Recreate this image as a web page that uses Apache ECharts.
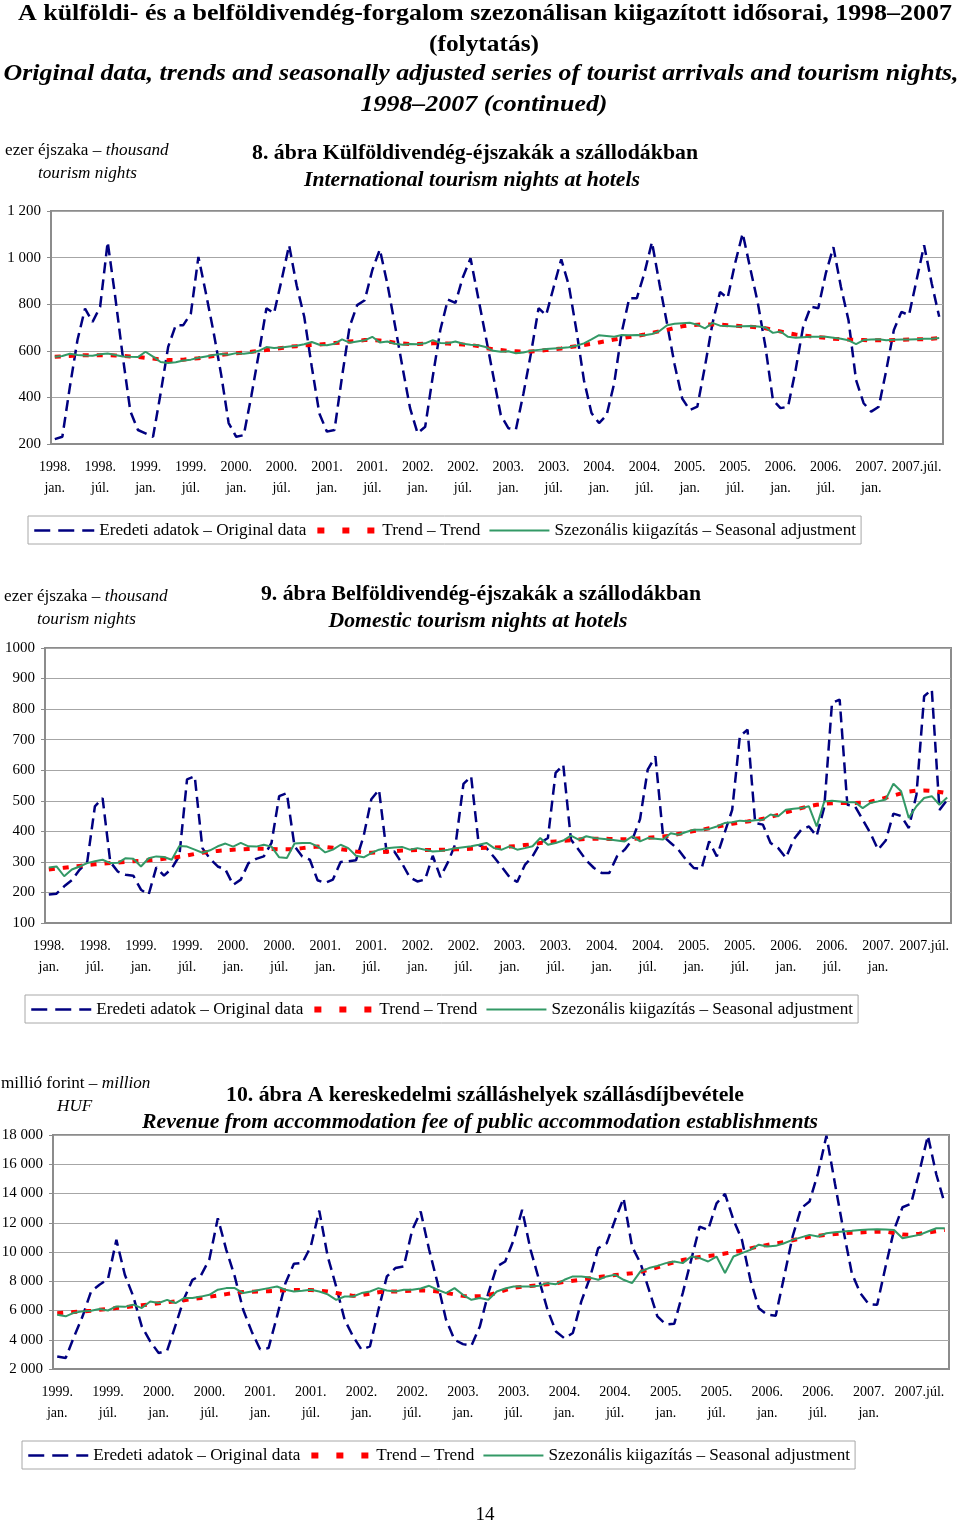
<!DOCTYPE html>
<html><head><meta charset="utf-8">
<script src="https://cdn.jsdelivr.net/npm/echarts@6/dist/echarts.min.js"></script>
<style>html,body{margin:0;padding:0;background:#fff}#c{width:960px;height:1525px}</style>
</head><body><div id="c"></div>
<script>
// ---------------- DATA ----------------
const monthNames = ['jan.','febr.','márc.','ápr.','máj.','jún.','júl.','aug.','szept.','okt.','nov.','dec.'];

// Chart 8 – International tourism nights at hotels (thousand), 1998 jan – 2007 okt
const ticks8 = ['1998.\njan.','1998.\njúl.','1999.\njan.','1999.\njúl.','2000.\njan.','2000.\njúl.','2001.\njan.','2001.\njúl.','2002.\njan.','2002.\njúl.','2003.\njan.','2003.\njúl.','2004.\njan.','2004.\njúl.','2005.\njan.','2005.\njúl.','2006.\njan.','2006.\njúl.','2007.\njan.','2007.júl.'];
const intlOriginal = [221,231,446,646,781,724,789,1067,831,574,340,260,
 246,231,417,617,710,710,760,1003,846,681,500,290,
 231,238,406,590,783,761,903,1053,880,746,531,331,
 253,260,489,703,796,817,946,1035,887,710,529,354,
 246,274,489,689,820,806,917,997,830,663,493,324,
 268,262,417,590,783,753,874,993,881,689,474,333,
 290,324,460,680,826,826,933,1067,886,716,540,395,
 346,360,531,717,852,826,976,1104,954,806,620,389,
 354,360,517,703,789,783,933,1045,874,731,474,375,
 339,360,517,689,767,753,903,1053,890,746];
const intlTrend = [574,576,578,580,581,581,581,581,580,578,576,574,
 570,567,563,560,560,562,565,568,573,578,582,586,
 589,592,596,600,603,607,612,617,620,623,625,627,
 630,633,636,640,643,646,646,644,640,635,631,629,
 629,630,632,633,631,629,627,625,620,612,606,603,
 600,598,596,597,600,603,606,610,615,620,625,630,
 636,642,648,654,659,664,670,677,684,690,698,705,
 710,712,713,713,712,710,708,705,703,700,697,690,
 683,676,670,666,662,659,656,652,650,648,647,646,
 645,645,645,646,647,648,649,650,652,654];
const intlSA = [574,578,587,582,580,579,585,588,582,576,574,573,
 596,575,552,548,551,558,562,570,576,582,586,583,
 590,587,592,600,616,612,614,618,622,628,638,626,
 624,630,649,635,640,645,660,636,640,630,626,629,
 628,632,646,634,632,640,630,626,624,616,600,596,
 598,589,593,600,604,608,610,612,615,622,632,649,
 667,664,660,668,667,668,667,672,685,710,716,718,
 720,712,696,720,708,706,704,705,706,704,700,677,
 683,660,656,658,660,660,660,656,652,645,629,646,
 648,650,645,647,648,648,650,652,652,655];

// Chart 9 – Domestic tourism nights at hotels (thousand), 1998 jan – 2007 okt
const ticks9 = ticks8;
const domOriginal = [193,196,220,240,274,300,482,509,300,268,258,255,
 209,193,282,255,278,320,570,580,345,310,285,275,
 225,242,296,310,318,362,515,525,351,318,307,240,
 231,242,300,302,305,384,505,536,330,334,295,250,
 236,242,320,250,300,362,555,580,355,345,315,283,
 250,234,290,318,362,378,591,618,373,340,305,280,
 264,264,318,340,373,440,602,645,384,362,340,307,
 280,277,367,318,394,470,711,733,427,422,362,345,
 313,373,405,416,384,480,820,831,487,482,438,394,
 340,370,458,450,411,520,842,864,470,503];
const domTrend = [275,278,281,284,287,290,292,294,296,298,300,302,
 303,305,307,310,313,317,321,326,330,333,336,338,
 340,341,342,343,343,342,341,341,342,345,348,350,
 349,346,342,338,334,331,330,331,333,335,337,338,
 339,339,339,340,340,341,342,343,345,346,347,348,
 350,352,355,358,362,365,367,369,371,373,375,376,
 376,375,374,374,375,377,379,381,383,386,391,396,
 401,405,410,415,420,425,429,432,436,441,447,454,
 462,469,476,482,487,490,492,493,493,493,494,497,
 503,510,517,524,530,533,534,532,529,525];
const domSA = [282,285,253,275,285,296,302,307,296,297,312,310,
 285,312,318,316,307,352,350,340,330,338,351,360,
 350,362,351,350,356,350,315,313,360,362,362,351,
 331,340,356,345,320,315,329,340,345,347,349,340,
 345,340,334,336,340,345,348,351,356,362,345,340,
 351,340,345,351,378,356,362,370,386,373,384,378,
 376,373,370,367,384,367,378,376,373,394,389,398,
 405,405,408,416,427,430,435,433,436,438,455,449,
 471,474,476,482,416,498,500,498,495,495,476,493,
 498,504,556,531,444,482,509,515,487,511];

// Chart 10 – Revenue from accommodation fee (million HUF), 1999 jan – 2007 okt
const ticks10 = ['1999.\njan.','1999.\njúl.','2000.\njan.','2000.\njúl.','2001.\njan.','2001.\njúl.','2002.\njan.','2002.\njúl.','2003.\njan.','2003.\njúl.','2004.\njan.','2004.\njúl.','2005.\njan.','2005.\njúl.','2006.\njan.','2006.\njúl.','2007.\njan.','2007.júl.'];
const revOriginal = [2860,2750,4230,5600,7300,7760,8140,10830,8440,6960,4910,3890,
 3090,3250,5000,6800,8100,8400,9500,12310,10150,8330,6050,4570,
 3350,3430,5600,7870,9190,9250,10380,12830,9690,7640,5370,4230,
 3320,3550,6050,8330,8900,9010,11510,12760,10150,7870,5370,4000,
 3700,3600,4910,7190,9010,9350,10830,12880,10150,8100,6050,4570,
 4100,4460,6620,8210,10260,10600,12200,13680,10380,9240,7420,5600,
 5050,5100,7190,9460,11740,11510,13330,13970,12200,10830,8100,6160,
 5710,5640,8330,11060,12990,13450,15380,17950,14700,11510,8560,7190,
 6440,6390,9010,11510,13060,13290,15500,17950,15300,13300];
const revTrend = [5820,5860,5900,5940,5990,6050,6110,6165,6220,6290,6360,6420,
 6490,6560,6630,6700,6780,6860,6940,7030,7120,7200,7260,7290,
 7300,7320,7350,7380,7400,7410,7400,7360,7300,7200,7100,7000,
 7050,7150,7250,7300,7300,7320,7350,7370,7350,7300,7200,7100,
 7000,6960,6980,7050,7200,7400,7550,7620,7680,7740,7800,7870,
 7950,8030,8110,8200,8280,8350,8420,8480,8550,8650,8780,8950,
 9150,9300,9450,9580,9660,9730,9800,9900,10000,10100,10250,10380,
 10480,10580,10680,10800,10930,11040,11110,11170,11230,11280,11320,11340,
 11370,11390,11390,11300,11200,11180,11250,11330,11420,11510];
const revSA = [5710,5600,5850,5940,5990,6100,6000,6280,6250,6400,6165,6620,
 6510,6730,6510,6850,6850,6950,7075,7420,7530,7530,7190,7300,
 7420,7530,7640,7420,7300,7350,7420,7300,7100,6730,6960,6960,
 7190,7300,7530,7370,7300,7420,7420,7500,7690,7420,7190,7530,
 7075,6730,6850,6730,7300,7500,7640,7640,7640,7700,7870,7800,
 8100,8330,8330,8250,8100,8330,8440,8100,7870,8670,8900,9050,
 9240,9350,9240,9690,9580,9350,9690,8560,9690,9920,10150,10500,
 10380,10420,10600,10830,11000,11170,11060,11280,11350,11400,11450,11510,
 11540,11560,11540,11510,10940,11060,11170,11400,11620,11620];

const seriesNames = ['Eredeti adatok – Original data','Trend – Trend','Szezonális kiigazítás – Seasonal adjustment'];

// ---------------- HELPERS ----------------
function buildCats(startYear, n){
  const out=[];
  for(let i=0;i<n;i++){ out.push((startYear+Math.floor(i/12))+'. '+monthNames[i%12]); }
  return out;
}
const FF = '"Liberation Serif","Times New Roman",serif';
const mctx = document.createElement('canvas').getContext('2d');
function measure(str, font){ mctx.font = font; return mctx.measureText(str).width; }
function txt(x, y, str, opts){
  const size = opts.size || 16, weight = opts.bold ? 'bold ' : '', style = opts.italic ? 'italic ' : '';
  const font = style + weight + size + 'px ' + FF;
  const el = { type:'text', x:x, y:y, silent:true,
    style:{ text:str, font:font, fill:'#000', align:opts.align||'center', verticalAlign:'middle' } };
  if(opts.width){ el.scaleX = opts.width / measure(str, font); }
  return el;
}
function richTxt(x, y, str, size){
  return { type:'text', x:x, y:y, silent:true,
    style:{ text:str, fill:'#000', align:'left', verticalAlign:'middle',
      font: size+'px '+FF,
      rich:{ n:{fontSize:size, fontFamily:FF, fill:'#000'}, i:{fontSize:size, fontFamily:FF, fontStyle:'italic', fill:'#000'} } } };
}
function spaced(v){ return String(v).replace(/\B(?=(\d{3})+(?!\d))/g,' '); }

// ---------------- LAYOUT ----------------
const panels = [
  { grid:{left:51, top:211, width:892, height:233}, cats:buildCats(1998,118), ticks:ticks8,
    y:{min:200,max:1200,interval:200, fmt:spaced}, data:[intlOriginal,intlTrend,intlSA],
    legend:{left:28, top:516} },
  { grid:{left:45, top:648, width:906, height:275}, cats:buildCats(1998,118), ticks:ticks9,
    y:{min:100,max:1000,interval:100, fmt:(v)=>String(v)}, data:[domOriginal,domTrend,domSA],
    legend:{left:25, top:995} },
  { grid:{left:53, top:1135, width:896, height:234}, cats:buildCats(1999,106), ticks:ticks10,
    y:{min:2000,max:18000,interval:2000, fmt:spaced}, data:[revOriginal,revTrend,revSA],
    legend:{left:22, top:1441} }
];

const styles = [
  {color:'#000080', width:2.5, type:[11,6]},
  {color:'#ff0000', width:4, type:[6,8]},
  {color:'#339966', width:2, type:'solid'}
];
const legendLine = [
  {color:'#000080', width:2.5, type:[16,8]},
  {color:'#ff0000', width:6, type:[7,18]},
  {color:'#339966', width:2, type:'solid'}
];

const option = { animation:false, backgroundColor:'#fff', grid:[], xAxis:[], yAxis:[], series:[], legend:[], graphic:[] };

panels.forEach((p, gi)=>{
  option.grid.push(Object.assign({show:true, borderColor:'#8c8c8c', borderWidth:2, containLabel:false, outerBoundsMode:'none'}, p.grid));
  const ticks = p.ticks;
  option.xAxis.push({ type:'category', gridIndex:gi, data:p.cats, boundaryGap:true,
    axisLine:{show:true, lineStyle:{color:'#8c8c8c', width:2}}, axisTick:{show:false},
    axisLabel:{ interval:5, formatter:(v, idx)=> ticks[idx/6] || '', fontSize:14, lineHeight:21,
      color:'#000', fontFamily:FF, margin:13 },
    splitLine:{show:false} });
  option.yAxis.push({ type:'value', gridIndex:gi, min:p.y.min, max:p.y.max, interval:p.y.interval,
    axisLine:{show:true, lineStyle:{color:'#8c8c8c', width:2}},
    axisTick:{show:true, length:4, lineStyle:{color:'#8c8c8c'}},
    axisLabel:{ formatter:p.y.fmt, fontSize:15, color:'#000', fontFamily:FF, margin:10 },
    splitLine:{show:true, lineStyle:{color:'#a6a6a6', width:1.2}} });
  p.data.forEach((arr, si)=>{
    option.series.push({ name:seriesNames[si], type:'line', xAxisIndex:gi, yAxisIndex:gi, data:arr,
      symbol:'none', smooth:false, z:2+si, lineStyle:Object.assign({}, styles[si]),
      itemStyle:{color:styles[si].color}, emphasis:{disabled:true} });
  });
  option.legend.push({ left:p.legend.left, top:p.legend.top, orient:'horizontal',
    data: seriesNames.map((n, si)=>({ name:n, itemStyle:{opacity:0}, lineStyle:Object.assign({}, legendLine[si]) })),
    itemWidth:60, itemHeight:12, itemGap:8, padding:[6,5,5,5],
    itemStyle:{opacity:0},
    borderColor:'#a8a8a8', borderWidth:1, selectedMode:false,
    textStyle:{fontSize:17.2, fontFamily:FF, color:'#000'} });
});

option.graphic = [
  txt(485, 14, 'A külföldi- és a belföldivendég-forgalom szezonálisan kiigazított idősorai, 1998–2007', {size:23, bold:true, width:934}),
  txt(484, 45, '(folytatás)', {size:23, bold:true, width:110}),
  txt(481, 74, 'Original data, trends and seasonally adjusted series of tourist arrivals and tourism nights,', {size:23, bold:true, italic:true, width:955}),
  txt(484, 105, '1998–2007 (continued)', {size:23, bold:true, italic:true, width:247}),

  richTxt(5, 150, '{n|ezer éjszaka – }{i|thousand}', 17.2),
  richTxt(38, 173, '{i|tourism nights}', 17.2),
  txt(475, 154, '8. ábra Külföldivendég-éjszakák a szállodákban', {size:21, bold:true, width:446}),
  txt(472, 181, 'International tourism nights at hotels', {size:21, bold:true, italic:true, width:336}),

  richTxt(4, 596, '{n|ezer éjszaka – }{i|thousand}', 17.2),
  richTxt(37, 619, '{i|tourism nights}', 17.2),
  txt(481, 595, '9. ábra Belföldivendég-éjszakák a szállodákban', {size:21, bold:true, width:440}),
  txt(478, 622, 'Domestic tourism nights at hotels', {size:21, bold:true, italic:true, width:299}),

  richTxt(1, 1083, '{n|millió forint – }{i|million}', 17.2),
  richTxt(57, 1106, '{i|HUF}', 17.2),
  txt(485, 1096, '10. ábra A kereskedelmi szálláshelyek szállásdíjbevétele', {size:21, bold:true, width:518}),
  txt(480, 1123, 'Revenue from accommodation fee of public accommodation establishments', {size:21, bold:true, italic:true, width:676}),

  txt(485, 1515, '14', {size:19})
];

const chart = echarts.init(document.getElementById('c'), null, {renderer:'canvas', width:960, height:1525});
chart.setOption(option);
</script>
</body></html>
